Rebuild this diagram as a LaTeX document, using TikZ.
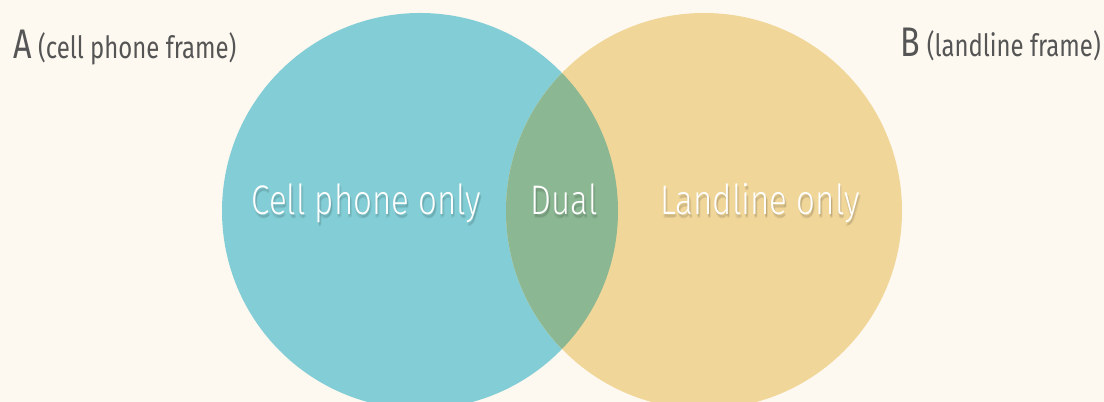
\documentclass[tikz,border=0pt]{standalone}
\usepackage{fontspec}
\setmainfont{Fira Sans}[FakeStretch=0.78]
\newfontfamily\regionfont{Fira Sans Light}[FakeStretch=0.8]
\usetikzlibrary{positioning}
\definecolor{bgcream}{RGB}{254,249,240}
\definecolor{cellteal}{RGB}{131,206,214}
\definecolor{landtan}{RGB}{240,214,153}
\definecolor{dualgreen}{RGB}{139,183,147}
\definecolor{labelgray}{RGB}{85,85,85}

\begin{document}
\begin{tikzpicture}[x=0.75pt,y=0.75pt,
  region/.style={text=white,inner sep=0pt,anchor=base,
                 font=\regionfont\fontsize{31}{36}\selectfont},
  regionshadow/.style={region,text=black,text opacity=0.07},
  framelab/.style={text=labelgray,inner sep=0pt,
                   font=\fontsize{23}{28}\selectfont},
  bigletter/.style={font=\fontsize{31}{36}\selectfont}
]
\fill[bgcream] (0,0) rectangle (1104,402);
\useasboundingbox (0,0) rectangle (1104,402);

\coordinate (cellc) at (420,191);
\coordinate (landc) at (704,191);
\fill[cellteal] (cellc) circle[radius=198];
\fill[landtan] (landc) circle[radius=198];
\begin{scope}
  \clip (cellc) circle[radius=198];
  \fill[dualgreen] (landc) circle[radius=198];
\end{scope}

\foreach \dx/\dy [count=\i] in {1/-2,2/-3,0.5/-3.5}{
  \node[regionshadow] (cellshadow\i) at (366.5+\dx,187+\dy) {Cell phone only};
  \node[regionshadow] (dualshadow\i) at (564+\dx,187+\dy) {Dual};
  \node[regionshadow] (landshadow\i) at (760+\dx,187+\dy) {Landline only};
}
\node[region] (cellonly) at (366.5,187) {Cell phone only};
\node[region] (dual) at (564,187) {Dual};
\node[region] (landonly) at (760,187) {Landline only};

\node[framelab,anchor=base west] (alabel) at (13,343)
  {{\fontsize{31}{36}\selectfont A} (cell phone frame)};
\node[framelab,anchor=base east] (blabel) at (1101,345)
  {{\fontsize{31}{36}\selectfont B} (landline frame)};
\end{tikzpicture}
\end{document}
